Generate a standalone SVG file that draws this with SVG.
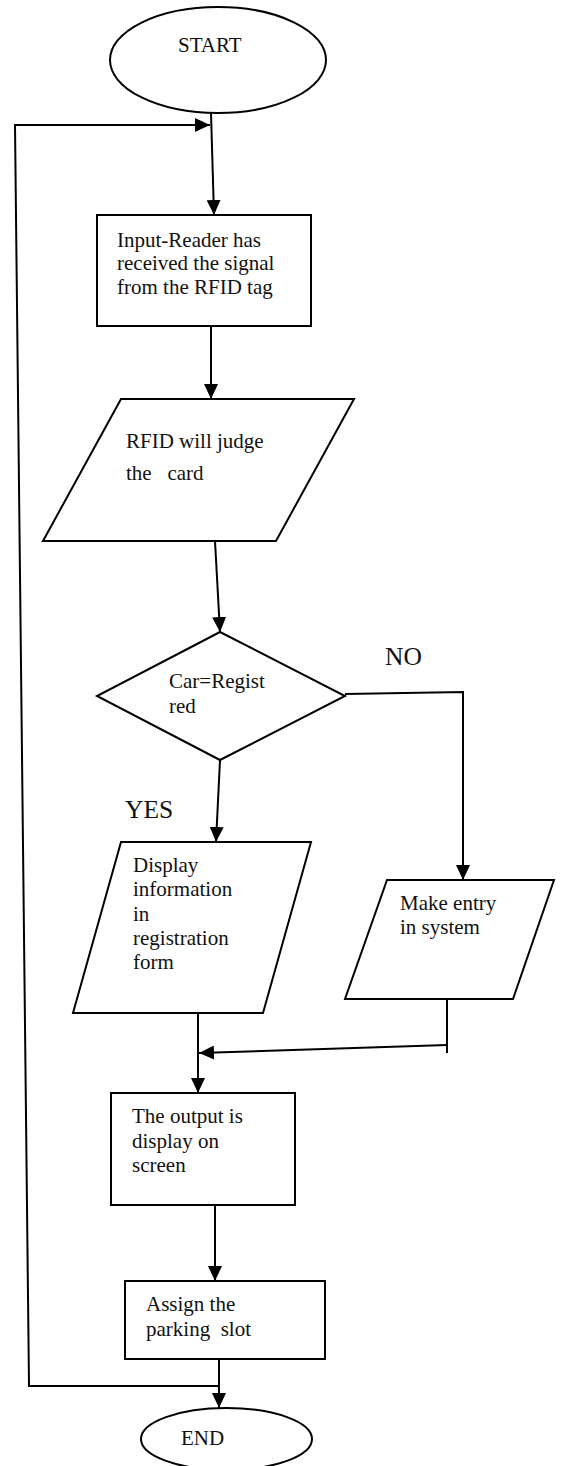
<svg xmlns="http://www.w3.org/2000/svg" width="562" height="1466" viewBox="0 0 562 1466">
<style>
.shape{fill:#fff;stroke:#000;stroke-width:2}
.conn{fill:none;stroke:#000;stroke-width:2}
text{font-family:"Liberation Serif","Times New Roman",serif;font-size:21px;fill:#111;white-space:pre}
.lbl{font-size:25.5px}
</style>
<defs>
<marker id="arr" markerUnits="userSpaceOnUse" markerWidth="15" markerHeight="14" viewBox="0 0 15 14" refX="15" refY="7" orient="auto">
<path d="M0,0 L15,7 L0,14 z" fill="#000"/>
</marker>
</defs>
<rect width="562" height="1466" fill="#fff"/>
<g id="connectors">
<path class="conn" d="M211,113 L214,215" marker-end="url(#arr)"/>
<path class="conn" d="M219,1386 L29,1386 L15,125 L210,125" marker-end="url(#arr)"/>
<path class="conn" d="M211,326 L211,399" marker-end="url(#arr)"/>
<path class="conn" d="M215,541 L220,632" marker-end="url(#arr)"/>
<path class="conn" d="M220,760 L216,842" marker-end="url(#arr)"/>
<path class="conn" d="M345,694 L463,692 L463,880" marker-end="url(#arr)"/>
<path class="conn" d="M198,1013 L198,1093" marker-end="url(#arr)"/>
<path class="conn" d="M447,999 L447,1053"/>
<path class="conn" d="M447,1045 L199,1053" marker-end="url(#arr)"/>
<path class="conn" d="M215,1205 L215,1281" marker-end="url(#arr)"/>
<path class="conn" d="M219,1359 L219,1408" marker-end="url(#arr)"/>
</g>
<g id="start">
<ellipse class="shape" cx="218" cy="60" rx="108" ry="53"/>
<text x="178" y="52">START</text>
</g>
<g id="reader">
<rect class="shape" x="97" y="215" width="214" height="111"/>
<text x="117" y="247">Input-Reader has</text>
<text x="117" y="270">received the signal</text>
<text x="117" y="294">from the RFID tag</text>
</g>
<g id="judge">
<polygon class="shape" points="121,399 354,399 276,541 43,541"/>
<text x="126" y="448">RFID will judge</text>
<text x="126" y="480">the   card</text>
</g>
<g id="decision">
<polygon class="shape" points="220,632 345,696 220,760 97,696"/>
<text x="169" y="688">Car=Regist</text>
<text x="169" y="713">red</text>
</g>
<text class="lbl" x="385" y="665">NO</text>
<text class="lbl" x="125" y="818">YES</text>
<g id="display-info">
<polygon class="shape" points="121,842 311,842 263,1013 73,1013"/>
<text x="133" y="872">Display</text>
<text x="133" y="896">information</text>
<text x="133" y="921">in</text>
<text x="133" y="945">registration</text>
<text x="133" y="969">form</text>
</g>
<g id="make-entry">
<polygon class="shape" points="387,880 554,880 513,999 345,999"/>
<text x="400" y="910">Make entry</text>
<text x="400" y="934">in system</text>
</g>
<g id="output">
<rect class="shape" x="111" y="1093" width="184" height="112"/>
<text x="132" y="1123">The output is</text>
<text x="132" y="1148">display on</text>
<text x="132" y="1172">screen</text>
</g>
<g id="assign">
<rect class="shape" x="125" y="1281" width="200" height="78"/>
<text x="146" y="1311">Assign the</text>
<text x="146" y="1336">parking  slot</text>
</g>
<g id="end">
<ellipse class="shape" cx="226.5" cy="1439" rx="85.5" ry="31"/>
<text x="181" y="1445">END</text>
</g>
</svg>
